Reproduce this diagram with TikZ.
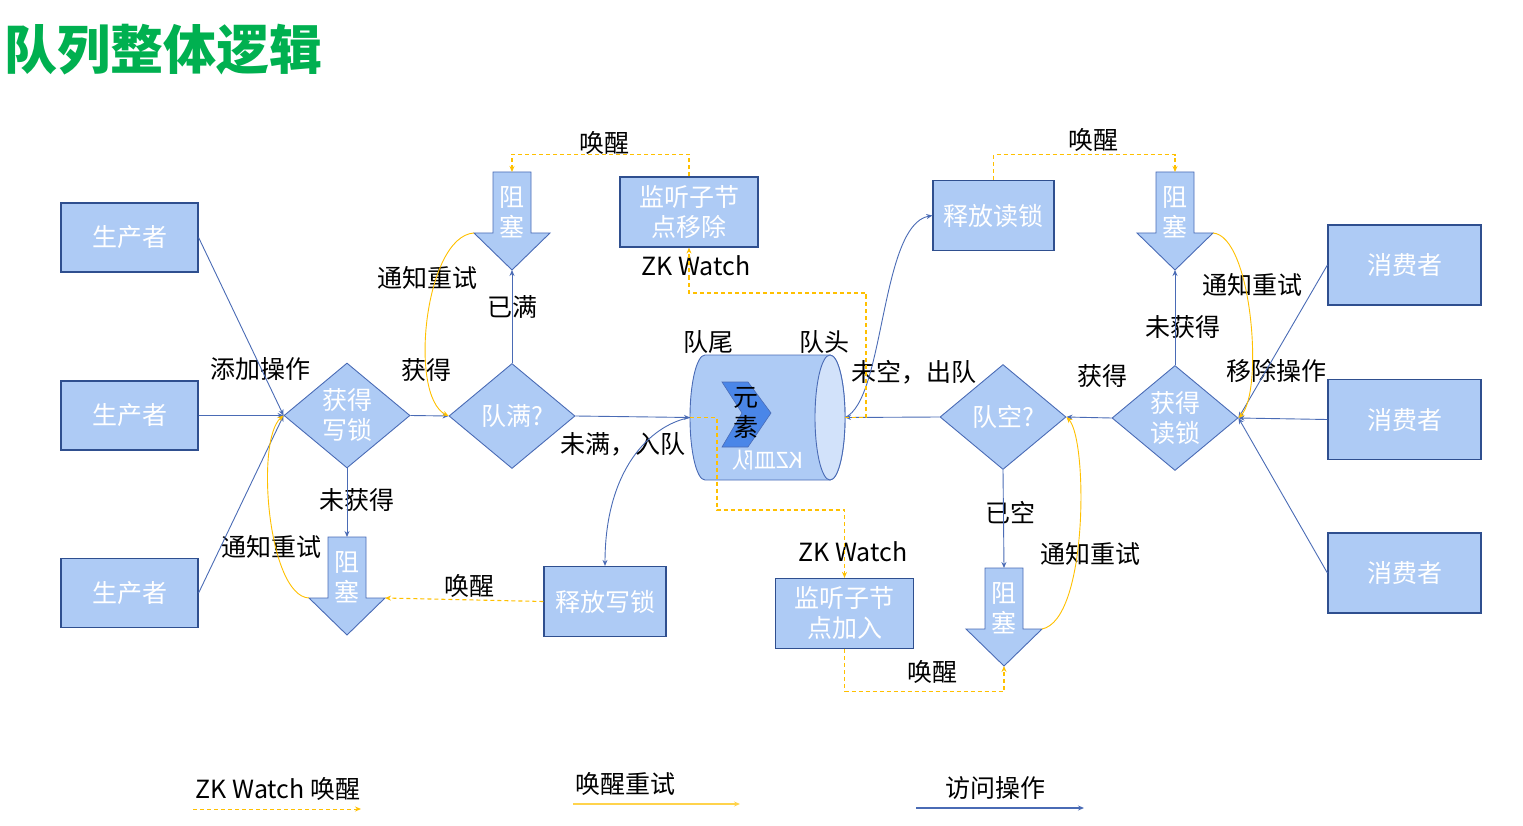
\documentclass[tikz,border=0pt]{standalone}
\usepackage{fontspec}
\setmainfont{Noto Sans CJK SC}
\usepackage{tikz}
\usetikzlibrary{positioning,shapes.geometric,arrows.meta}
\usepackage{xcolor}
\definecolor{boxfill}{HTML}{AECBF5}
\definecolor{boxline}{HTML}{2F4F8F}
\definecolor{linkblue}{HTML}{4A6BB5}
\definecolor{retryorange}{HTML}{FFC000}
\definecolor{titlegreen}{HTML}{00B050}
\definecolor{elemblue}{HTML}{4A86E8}
\definecolor{capfill}{HTML}{D2E2FA}

\tikzset{
  pics/blockdown/.style={code={
    \filldraw[fill=boxfill, draw=linkblue, line width=0.9pt]
      (-19,0) -- (19,0) -- (19,61) -- (38,61) -- (0,98) -- (-38,61) -- (-19,61) -- cycle;
    \node[text=white, align=center, inner sep=0pt] at (0,40) {阻\\塞};
    \coordinate (-top) at (0,0);
    \coordinate (-tip) at (0,98);
    \coordinate (-hl) at (-38,61);
    \coordinate (-hr) at (38,61);
  }}
}

\begin{document}
\begin{tikzpicture}[
  x=1pt, y=-1pt,
  every node/.style={font=\fontsize{25}{30}\selectfont},
  box/.style={draw=boxline, line width=1.2pt, fill=boxfill, text=white, align=center, inner sep=0pt},
  diam/.style={diamond, draw=linkblue, line width=0.9pt, fill=boxfill, text=white, align=center, inner sep=0pt, minimum width=126pt, minimum height=105pt},
  lbl/.style={text=black, inner sep=1pt},
  arr/.style={-{Stealth[length=6pt,width=5pt]}, line width=0.9pt, color=linkblue},
  retry/.style={-{Stealth[length=6pt,width=5pt]}, line width=0.9pt, color=retryorange},
  watch/.style={-{Stealth[length=6pt,width=5pt]}, line width=1.1pt, color=retryorange, dash pattern=on 4pt off 3pt}
]
\useasboundingbox (0,0) rectangle (1523,826);

\node[anchor=west, inner sep=0pt, text=titlegreen, font=\fontsize{53}{60}\selectfont\bfseries] (title) at (4,50) {队列整体逻辑};

% producers and consumers
\node[box, minimum width=137pt, minimum height=69pt] (p1) at (129.5,237.5) {生产者};
\node[box, minimum width=137pt, minimum height=69pt] (p2) at (129.5,415.5) {生产者};
\node[box, minimum width=137pt, minimum height=69pt] (p3) at (129.5,593) {生产者};
\node[box, minimum width=153pt, minimum height=80pt] (c1) at (1404.5,265) {消费者};
\node[box, minimum width=153pt, minimum height=80pt] (c2) at (1404.5,419.5) {消费者};
\node[box, minimum width=153pt, minimum height=80pt] (c3) at (1404.5,573) {消费者};

% decisions
\node[diam] (wlock) at (347,415.5) {获得\\写锁};
\node[diam] (full) at (512,416) {队满?};
\node[diam] (empty) at (1003,417) {队空?};
\node[diam] (rlock) at (1175,418) {获得\\读锁};

% other boxes
\node[box, minimum width=138pt, minimum height=70pt] (rmv) at (689,212) {监听子节\\点移除};
\node[box, minimum width=121pt, minimum height=70pt] (rrl) at (993.5,215.5) {释放读锁};
\node[box, minimum width=122pt, minimum height=70pt] (rwl) at (605,601.5) {释放写锁};
\node[box, minimum width=138pt, minimum height=70pt] (add) at (844.5,613.5) {监听子节\\点加入};

% blocked states
\pic (a1) at (512,172) {blockdown};
\pic (a2) at (347,537) {blockdown};
\pic (a3) at (1175,172) {blockdown};
\pic (a4) at (1004,568) {blockdown};

% the queue
\filldraw[fill=boxfill, draw=linkblue, line width=0.9pt]
  (705,355) -- (830,355) arc[start angle=-90, end angle=90, x radius=15, y radius=62.5]
  -- (705,480) arc[start angle=90, end angle=270, x radius=15, y radius=62.5] -- cycle;
\filldraw[fill=capfill, draw=linkblue, line width=0.9pt] (830,417.5) ellipse[x radius=15, y radius=62.5];
\coordinate (qL) at (690,417.5);
\coordinate (qR) at (845,417.5);
\filldraw[fill=elemblue, draw=linkblue, line width=0.6pt]
  (722,382) -- (748,382) -- (771,413) -- (748,447) -- (722,447) -- (742,413) -- cycle;
\node[text=black, align=center, inner sep=0pt] (elem) at (746,413) {元\\素};
\node[text=white, inner sep=0pt, transform shape, xscale=-1, font=\fontsize{22}{26}\selectfont] (mirr) at (768,460) {KZ皿队};

% labels
\node[lbl] (l-add) at (260,369) {添加操作};
\node[lbl] (l-got1) at (426,370) {获得};
\node[lbl] (l-try1) at (427,278) {通知重试};
\node[lbl] (l-full) at (512,307) {已满};
\node[lbl] (l-wake1) at (604,143) {唤醒};
\node[lbl] (l-zk1) at (696,266) {ZK Watch};
\node[lbl] (l-tail) at (708,342) {队尾};
\node[lbl] (l-head) at (824,342) {队头};
\node[lbl] (l-in) at (623,444) {未满，入队};
\node[lbl] (l-miss1) at (357,500) {未获得};
\node[lbl] (l-try2) at (271,547) {通知重试};
\node[lbl] (l-wake2) at (469,586) {唤醒};
\node[lbl] (l-zk2) at (853,552) {ZK Watch};
\node[lbl] (l-wake3) at (932,672) {唤醒};
\node[lbl] (l-out) at (914,372) {未空，出队};
\node[lbl] (l-empty) at (1010,513) {已空};
\node[lbl] (l-try3) at (1090,554) {通知重试};
\node[lbl] (l-got2) at (1102,376) {获得};
\node[lbl] (l-miss2) at (1183,327) {未获得};
\node[lbl] (l-try4) at (1252,285) {通知重试};
\node[lbl] (l-wake4) at (1093,140) {唤醒};
\node[lbl] (l-rm) at (1276,371) {移除操作};

% access operations
\draw[arr] (p1.east) -- (wlock.west);
\draw[arr] (p2.east) -- (wlock.west);
\draw[arr] (p3.east) -- (wlock.west);
\draw[arr] (wlock.east) -- (full.west);
\draw[arr] (full.north) -- (a1-tip);
\draw[arr] (full.east) -- (qL);
\draw[arr] (wlock.south) -- (a2-top);
\draw[arr] (qL) .. controls (650,425) and (605,470) .. (rwl.north);
\draw[arr] (empty.west) -- (qR);
\draw[arr] (qR) .. controls (885,400) and (880,225) .. (rrl.west);
\draw[arr] (rlock.west) -- (empty.east);
\draw[arr] (rlock.north) -- (a3-tip);
\draw[arr] (empty.south) -- (a4-top);
\draw[arr] (c1.west) -- (rlock.east);
\draw[arr] (c2.west) -- (rlock.east);
\draw[arr] (c3.west) -- (rlock.east);

% retry
\draw[retry] (a1-hl) .. controls (425,236) and (408,395) .. (full.west);
\draw[retry] (a2-hl) .. controls (268,596) and (255,440) .. (wlock.west);
\draw[retry] (a3-hr) .. controls (1252,236) and (1264,392) .. (rlock.east);
\draw[retry] (a4-hr) .. controls (1088,620) and (1088,440) .. (empty.east);

% zk watch wake-ups
\draw[watch] (qR) -- (866,417.5) -- (866,293) -| (rmv.south);
\draw[watch] (rmv.north) -- ++(0,-22) -| (a1-top);
\draw[watch] (qL) -- (717,417.5) -- (717,510) -| (add.north);
\draw[watch] (add.south) -- ++(0,42) -| (a4-tip);
\draw[watch] (rwl.west) -- (a2-hr);
\draw[watch] (rrl.north) -- ++(0,-25) -| (a3-top);

% legend
\node[lbl] (lg-zk) at (278,789) {ZK Watch 唤醒};
\node[lbl] (lg-try) at (625,784) {唤醒重试};
\node[lbl] (lg-acc) at (995,788) {访问操作};
\coordinate (lz1) at (193,809); \coordinate (lz2) at (361,809);
\coordinate (lt1) at (573,804); \coordinate (lt2) at (740,804);
\coordinate (la1) at (916,808); \coordinate (la2) at (1084,808);
\draw[watch, line width=1pt] (lz1) -- (lz2);
\draw[retry, line width=1.6pt, color=retryorange!70] (lt1) -- (lt2);
\draw[arr, line width=1.6pt] (la1) -- (la2);
\end{tikzpicture}
\end{document}
